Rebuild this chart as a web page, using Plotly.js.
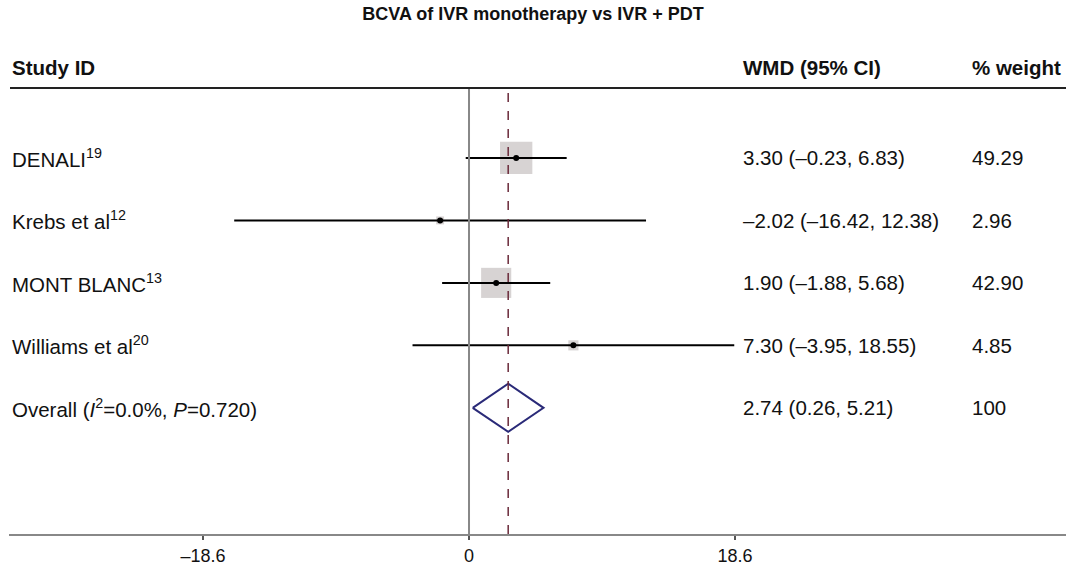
<!DOCTYPE html>
<html>
<head>
<meta charset="utf-8">
<script src="https://cdn.plot.ly/plotly-3.0.1.min.js"></script>
<style>html,body{margin:0;padding:0;background:#fff;}#chart{width:1066px;height:567px;}</style>
</head>
<body>
<div id="chart"></div>
<script>
// ---- data ----
const studies = ["DENALI<sup>19</sup>", "Krebs et al<sup>12</sup>", "MONT BLANC<sup>13</sup>", "Williams et al<sup>20</sup>"];
const estimates = [3.30, -2.02, 1.90, 7.30];
const lowerCI = [-0.23, -16.42, -1.88, -3.95];
const upperCI = [6.83, 12.38, 5.68, 18.55];
const weights = [49.29, 2.96, 42.90, 4.85];
const ciLabels = ["3.30 (\u20130.23, 6.83)", "\u20132.02 (\u201316.42, 12.38)", "1.90 (\u20131.88, 5.68)", "7.30 (\u20133.95, 18.55)"];
const weightLabels = ["49.29", "2.96", "42.90", "4.85"];
const overallLabel = "Overall (<i>I</i><sup>2</sup>=0.0%, <i>P</i>=0.720)";
const overallEst = 2.74, overallLo = 0.26, overallHi = 5.21;
const overallCILabel = "2.74 (0.26, 5.21)";
const overallWeight = "100";
const tickVals = [-18.6, 0, 18.6];
const tickText = ["\u201318.6", "0", "18.6"];

// ---- build ----
const rows = studies.map((_, i) => i + 1);
const overallRow = studies.length + 1;
const font = "Liberation Sans, Arial, sans-serif";

const ciX = [], ciY = [];
rows.forEach((r, i) => { ciX.push(lowerCI[i], upperCI[i], null); ciY.push(r, r, null); });

const dh = 0.385;
const traces = [
  { x: estimates, y: rows, mode: "markers", type: "scatter", hoverinfo: "skip",
    marker: { symbol: "square", color: "#c6c1c1", size: weights.map(w => 4.6 * Math.sqrt(w)), line: { width: 0 } } },
  { x: ciX, y: ciY, mode: "lines", type: "scatter", hoverinfo: "skip",
    line: { color: "#000", width: 2 } },
  { x: estimates, y: rows, mode: "markers", type: "scatter", hoverinfo: "skip",
    marker: { symbol: "circle", color: "#000", size: 6 } },
  { x: [overallLo, overallEst, overallHi, overallEst, overallLo],
    y: [overallRow, overallRow - dh, overallRow, overallRow + dh, overallRow],
    mode: "lines", type: "scatter", fill: "toself", fillcolor: "rgba(255,255,255,0)", hoverinfo: "skip",
    line: { color: "#2a2a78", width: 2 } }
];

const pxL = 9, pxR = 1066, W = pxR - pxL;
const px = p => (p - pxL) / W;
const annotations = [];
const addText = (text, x, y, bold, yref) => annotations.push({
  text: bold ? "<b>" + text + "</b>" : text, x: x, y: y, xref: "paper", yref: yref || "y",
  xanchor: "left", yanchor: "middle", showarrow: false,
  font: { family: font, size: 20.5, color: "#111" }
});
rows.forEach((r, i) => {
  addText(studies[i], px(10), r);
  addText(ciLabels[i], px(741), r);
  addText(weightLabels[i], px(970), r);
});
addText(overallLabel, px(10), overallRow);
addText(overallCILabel, px(741), overallRow);
addText(overallWeight, px(970), overallRow);
addText("Study ID", px(10), 1.045, true, "paper");
addText("WMD (95% CI)", px(741), 1.045, true, "paper");
addText("% weight", px(970), 1.045, true, "paper");

const layout = {
  width: 1066, height: 567,
  margin: { l: pxL, r: 0, t: 88, b: 33 },
  paper_bgcolor: "#fff", plot_bgcolor: "#fff",
  showlegend: false,
  title: { text: "<b>BCVA of IVR monotherapy vs IVR + PDT</b>", x: 0.5, xanchor: "center", y: 0.975, yanchor: "middle",
    font: { family: font, size: 18, color: "#111" } },
  xaxis: { range: [-32.17, 41.75], showgrid: false, zeroline: false, showline: true, linecolor: "#888", linewidth: 2,
    tickvals: tickVals, ticktext: tickText, ticks: "outside", ticklen: 4, tickwidth: 1.5, tickcolor: "#555",
    tickfont: { family: font, size: 18, color: "#111" }, fixedrange: true },
  yaxis: { range: [7.02, -0.12], showgrid: false, zeroline: false, showline: false, showticklabels: false, fixedrange: true },
  shapes: [
    { type: "line", xref: "x", yref: "paper", x0: 0, x1: 0, y0: 0, y1: 1, line: { color: "#888", width: 2 } },
    { type: "line", xref: "x", yref: "paper", x0: overallEst, x1: overallEst, y0: 0, y1: 1, line: { color: "#6a2a3a", width: 1.5, dash: "dash" } },
    { type: "line", xref: "paper", yref: "paper", x0: px(10), x1: 1, y0: 1, y1: 1, line: { color: "#222", width: 2 } }
  ],
  annotations: annotations
};

Plotly.newPlot("chart", traces, layout, { displayModeBar: false, staticPlot: true });
</script>
</body>
</html>
